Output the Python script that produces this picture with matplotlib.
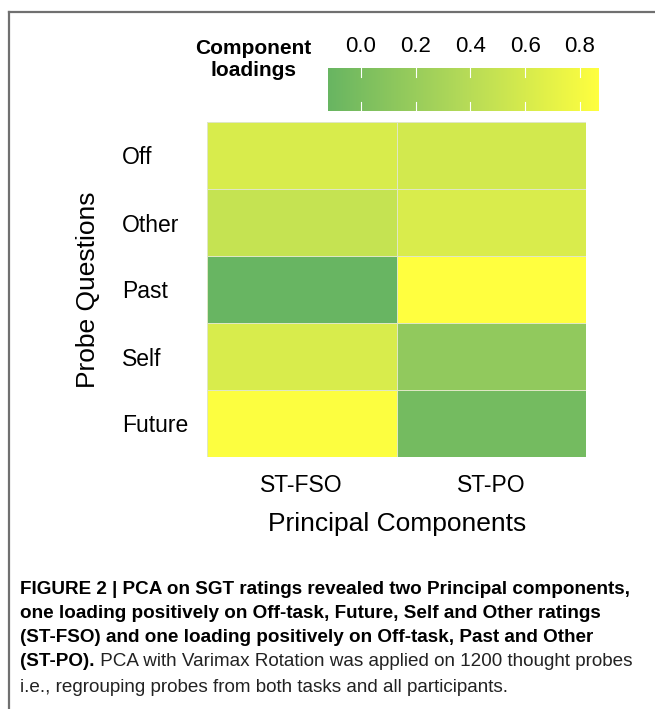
import numpy as np
import matplotlib
matplotlib.use("Agg")
import matplotlib.pyplot as plt
from matplotlib.colors import LinearSegmentedColormap, Normalize
from matplotlib.lines import Line2D

questions = ["Off", "Other", "Past", "Self", "Future"]
components = ["ST-FSO", "ST-PO"]
st_fso = [0.61, 0.49, -0.12, 0.61, 0.85]
st_po = [0.57, 0.62, 0.87, 0.15, -0.04]
cbar_ticks = [0.0, 0.2, 0.4, 0.6, 0.8]
cbar_labels = ["0.0", "0.2", "0.4", "0.6", "0.8"]

caption_bold = ["FIGURE 2 | PCA on SGT ratings revealed two Principal components,",
                "one loading positively on Off-task, Future, Self and Other ratings",
                "(ST-FSO) and one loading positively on Off-task, Past and Other"]
caption_last_bold = "(ST-PO)."
caption_last_rest = " PCA with Varimax Rotation was applied on 1200 thought probes"
caption_final = "i.e., regrouping probes from both tasks and all participants."

plt.rcParams['font.family'] = ['Liberation Sans', 'DejaVu Sans']
cap_family = ['Liberation Sans Narrow', 'Liberation Sans', 'DejaVu Sans']

cmap = LinearSegmentedColormap.from_list("gy", ["#68b562", "#b4da58", "#ffff3f"])
data = np.array([st_fso, st_po]).T
vmin, vmax = data.min(), data.max()
norm = Normalize(vmin=vmin, vmax=vmax)

W, H = 655, 709
fig = plt.figure(figsize=(W / 100, H / 100), dpi=100)

# border
fig.add_artist(Line2D([9 / W, 9 / W], [1 - 12 / H, 0], color="#707070", lw=1.6, transform=fig.transFigure))
fig.add_artist(Line2D([9 / W, 1], [1 - 12 / H, 1 - 12 / H], color="#707070", lw=1.6, transform=fig.transFigure))

# heatmap
ax = fig.add_axes([207 / W, 1 - 457 / H, 379 / W, 335 / H])
ax.pcolormesh(np.arange(3) - 0.5, np.arange(6) - 0.5, data, cmap=cmap, norm=norm,
              edgecolor="#dfe7c4", linewidth=0.7)
ax.set_xlim(-0.5, 1.5)
ax.set_ylim(4.5, -0.5)
ax.set_xticks(range(2))
ax.set_xticklabels(components, fontsize=16.5)
ax.set_yticks(range(5))
ax.set_yticklabels(questions, fontsize=16.5, ha="left")
ax.tick_params(length=0)
ax.tick_params(axis="y", pad=61)
ax.tick_params(axis="x", pad=12)
for s in ax.spines.values():
    s.set_visible(False)
fig.text(397 / W, 1 - 524 / H, "Principal Components", fontsize=19, ha="center", va="center")
fig.text(88 / W, 1 - 290 / H, "Probe Questions", fontsize=19, ha="center", va="center", rotation=90)

# colorbar
cax = fig.add_axes([328 / W, 1 - 111 / H, 271 / W, 43 / H])
grad = np.linspace(vmin, vmax, 256).reshape(1, -1)
cax.imshow(grad, aspect="auto", cmap=cmap, norm=norm, extent=[vmin, vmax, 0, 1])
cax.set_xlim(vmin, vmax)
cax.set_ylim(0, 1)
for t in cbar_ticks:
    cax.plot([t, t], [0, 0.2], color="white", lw=0.8)
    cax.plot([t, t], [0.8, 1], color="white", lw=0.8)
cax.set_yticks([])
cax.xaxis.set_ticks_position("top")
cax.set_xticks(cbar_ticks)
cax.set_xticklabels(cbar_labels, fontsize=16)
cax.tick_params(length=0, pad=8)
for s in cax.spines.values():
    s.set_visible(False)
fig.text(253 / W, 1 - 59 / H, "Component\nloadings", fontsize=15, fontweight="bold",
         ha="center", va="center", linespacing=1.2)

# caption
fs = 13.6
ys = [589, 613, 638]
for y, line in zip(ys, caption_bold):
    fig.text(20 / W, 1 - y / H, line, fontsize=fs, fontweight="bold", family=cap_family,
             ha="left", va="center")
t1 = fig.text(20 / W, 1 - 662 / H, caption_last_bold, fontsize=fs, fontweight="bold",
              family=cap_family, ha="left", va="center")
fig.canvas.draw()
bb = t1.get_window_extent()
fig.text(bb.x1 / W, 1 - 662 / H, caption_last_rest, fontsize=fs, family=cap_family,
         ha="left", va="center", color="#222222")
fig.text(20 / W, 1 - 687 / H, caption_final, fontsize=fs, family=cap_family,
         ha="left", va="center", color="#222222")

fig.savefig("out.png", dpi=100)
